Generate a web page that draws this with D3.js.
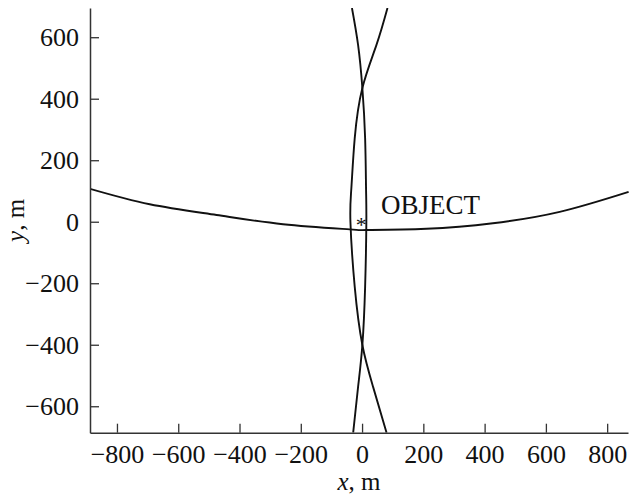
<!DOCTYPE html>
<html>
<head>
    <meta charset="utf-8">
    <script src="https://d3js.org/d3.v7.min.js"></script>
    <style>
      body { margin: 0; background: #fff; }
      svg text { font-family: "Liberation Serif", "Times New Roman", serif; fill: #111; }
    </style>
</head>
<body>

<script>
  var width = 629;
  var height = 502;

  // curves, [x, y] in metres
  var curveHoriz = [[-888,107],[-693,57],[-475,22],[-258,-8],[-40,-25],[14,-27],[210,-23],[427,-5],[645,32],[870,97]];
  var curveRight = [[-33,695],[-13,575],[1,435],[10,271],[13,108],[14,0],[10,-211],[1,-401],[-13,-537],[-29,-686]];
  var curveLeft  = [[83,695],[47,575],[1,435],[-24,271],[-35,108],[-38,0],[-24,-211],[1,-401],[36,-537],[80,-686]];
  var objectPos = [-3, 0];
  var objectLabel = "OBJECT";

  var xTicks = [-800,-600,-400,-200,0,200,400,600,800];
  var yTicks = [-600,-400,-200,0,200,400,600];

  // plot box (note: "top" is taken by window.top)
  var plotL = 90, plotR = 628, plotT = 8, plotB = 432.7;
  var serif = '"Liberation Serif", "Times New Roman", serif';

  var svg = d3.select("body").append("svg")
    .attr("width",width)
    .attr("height",height);

  var x = d3.scaleLinear().domain([-888, 868]).range([plotL, plotR]);
  var y = d3.scaleLinear().domain([-686, 695]).range([plotB, plotT]);

  svg.append("clipPath").attr("id","plot")
    .append("rect")
    .attr("x",plotL).attr("y",plotT)
    .attr("width",width-plotL).attr("height",plotB-plotT);

  var line = d3.line()
    .x(function(d){ return x(d[0]); })
    .y(function(d){ return y(d[1]); })
    .curve(d3.curveNatural);

  svg.append("g").attr("clip-path","url(#plot)")
    .selectAll("path")
    .data([curveHoriz, curveRight, curveLeft])
    .enter()
    .append("path")
    .attr("d", line)
    .style("fill","none")
    .style("stroke","#111")
    .style("stroke-width",1.9);

  // axes, ticks pointing inward
  var xAxis = d3.axisBottom(x).tickValues(xTicks).tickSizeInner(-9).tickSizeOuter(0).tickPadding(12);
  var yAxis = d3.axisLeft(y).tickValues(yTicks).tickSizeInner(-9).tickSizeOuter(0).tickPadding(11);

  var gx = svg.append("g").attr("transform","translate(0,"+plotB+")").call(xAxis);
  var gy = svg.append("g").attr("transform","translate("+plotL+",0)").call(yAxis);

  [gx, gy].forEach(function(g){
    g.attr("font-family", serif).attr("font-size", 26);
    g.select(".domain").style("stroke","#333").style("stroke-width",1.5);
    g.selectAll(".tick line").style("stroke","#333").style("stroke-width",1.3);
    g.selectAll(".tick text")
      .attr("font-family", serif)
      .attr("fill","#111");
  });

  // axis titles
  var xt = svg.append("text")
    .attr("x",(plotL+plotR)/2)
    .attr("y",490)
    .attr("text-anchor","middle")
    .style("font-size","25px");
  xt.append("tspan").style("font-style","italic").text("x");
  xt.append("tspan").text(", m");

  var yt = svg.append("text")
    .attr("transform","translate(24,"+((plotT+plotB)/2)+") rotate(-90)")
    .attr("text-anchor","middle")
    .style("font-size","25px");
  yt.append("tspan").style("font-style","italic").text("y");
  yt.append("tspan").text(", m");

  // object marker and label
  svg.append("text")
    .attr("x",x(objectPos[0]))
    .attr("y",y(objectPos[1]))
    .attr("dy","0.47em")
    .attr("text-anchor","middle")
    .style("font-size","22px")
    .text("*");

  svg.append("text")
    .attr("x",381)
    .attr("y",214)
    .style("font-size","27px")
    .text(objectLabel);
</script>

</body>
</html>
